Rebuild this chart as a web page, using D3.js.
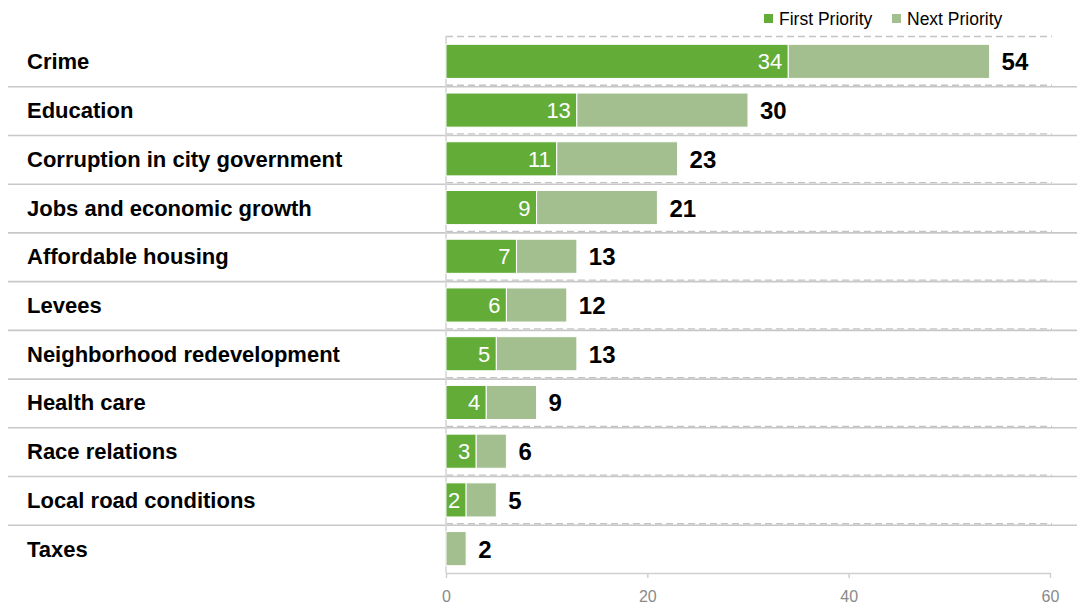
<!DOCTYPE html>
<html>
<head>
<meta charset="utf-8">
<script src="https://cdn.jsdelivr.net/npm/d3@7"></script>
<style>
  html, body { margin: 0; padding: 0; background: #fff; }
  svg { display: block; font-family: "Liberation Sans", Arial, sans-serif; }
</style>
</head>
<body>
<svg id="chart" width="1077" height="606"></svg>
<script>
// Issue priorities: share naming each issue first, and total (first + next)
const categories = [
  "Crime", "Education", "Corruption in city government", "Jobs and economic growth",
  "Affordable housing", "Levees", "Neighborhood redevelopment", "Health care",
  "Race relations", "Local road conditions", "Taxes"
];
const firstPriority = [34, 13, 11, 9, 7, 6, 5, 4, 3, 2, 0];
const totalPriority = [54, 30, 23, 21, 13, 12, 13, 9, 6, 5, 2];
const seriesNames = ["First Priority", "Next Priority"];
const xTicks = [0, 20, 40, 60];

const colors = { first: "#63ac37", next: "#a3bf8f" };

const svg = d3.select("#chart");
const W = 1077;

const x = d3.scaleLinear().domain([0, 60]).range([446, 1050]);
const y = d3.scaleBand().domain(categories).range([37, 573]).paddingInner(0.3).paddingOuter(0.15);
const step = y.step();
const bandTop = i => 37 + i * step;

const rows = categories.map((c, i) => ({
  cat: c,
  first: firstPriority[i],
  next: totalPriority[i] - firstPriority[i],
  total: totalPriority[i]
}));
const stacked = d3.stack().keys(["first", "next"])(rows);

// dashed gridlines at category boundaries inside the plot
svg.append("g").selectAll("line")
  .data(d3.range(categories.length))
  .join("line")
  .attr("x1", x(0)).attr("x2", x(60) + 2)
  .attr("y1", i => bandTop(i) - 0.5).attr("y2", i => bandTop(i) - 0.5)
  .attr("stroke", "#c4c4c4").attr("stroke-width", 1.3)
  .attr("stroke-dasharray", "7,4");

// solid row separators across the full width
svg.append("g").selectAll("line")
  .data(d3.range(1, categories.length))
  .join("line")
  .attr("x1", 8).attr("x2", W)
  .attr("y1", i => bandTop(i) + 1).attr("y2", i => bandTop(i) + 1)
  .attr("stroke", "#c8c8c8").attr("stroke-width", 1.6);

// x axis
const xAxis = svg.append("g")
  .attr("transform", `translate(0,${bandTop(categories.length)})`)
  .call(d3.axisBottom(x).tickValues(xTicks).tickSize(5).tickSizeOuter(0).tickPadding(13));
xAxis.select(".domain").attr("stroke", "#d0d0d0").attr("stroke-width", 1.5);
xAxis.selectAll(".tick line").attr("stroke", "#d0d0d0").attr("stroke-width", 1.5);
xAxis.selectAll(".tick text")
  .attr("fill", "#8a8a8a")
  .style("font-size", "16px")
  .style("font-family", "'Liberation Sans', Arial, sans-serif");

// vertical baseline
svg.append("line")
  .attr("x1", x(0)).attr("x2", x(0))
  .attr("y1", bandTop(0) - 1).attr("y2", bandTop(categories.length))
  .attr("stroke", "#d6d6d6").attr("stroke-width", 1.6);

// stacked bars
svg.append("g").selectAll("g")
  .data(stacked)
  .join("g")
  .attr("fill", d => colors[d.key])
  .selectAll("rect")
  .data(d => d.filter(s => s[1] > s[0]))
  .join("rect")
  .attr("x", d => x(d[0]))
  .attr("y", d => y(d.data.cat))
  .attr("width", d => x(d[1]) - x(d[0]))
  .attr("height", y.bandwidth())
  .attr("stroke", "#ffffff")
  .attr("stroke-width", 1);

// first-priority values inside bars
svg.append("g").selectAll("text")
  .data(rows.filter(r => r.first > 0))
  .join("text")
  .attr("x", d => x(d.first) - 6)
  .attr("y", d => y(d.cat) + y.bandwidth() / 2 + 8)
  .attr("text-anchor", "end")
  .attr("fill", "#ffffff")
  .style("font-size", "22px")
  .text(d => d.first);

// totals after bars
svg.append("g").selectAll("text")
  .data(rows)
  .join("text")
  .attr("x", d => x(d.total) + 12)
  .attr("y", d => y(d.cat) + y.bandwidth() / 2 + 9)
  .attr("fill", "#000")
  .style("font-size", "24px")
  .style("font-weight", "bold")
  .text(d => d.total);

// category labels
svg.append("g").selectAll("text")
  .data(categories)
  .join("text")
  .attr("x", 27)
  .attr("y", d => y(d) + y.bandwidth() / 2 + 8)
  .attr("fill", "#000")
  .style("font-size", "22px")
  .style("font-weight", "bold")
  .text(d => d);

// legend
const legend = svg.append("g");
const legendX = [764, 892];
const legendColors = [colors.first, colors.next];
seriesNames.forEach((name, i) => {
  legend.append("rect")
    .attr("x", legendX[i]).attr("y", 14)
    .attr("width", 9).attr("height", 9)
    .attr("fill", legendColors[i]);
  legend.append("text")
    .attr("x", legendX[i] + 15).attr("y", 25)
    .attr("fill", "#000")
    .style("font-size", "17.5px")
    .text(name);
});
</script>
</body>
</html>
